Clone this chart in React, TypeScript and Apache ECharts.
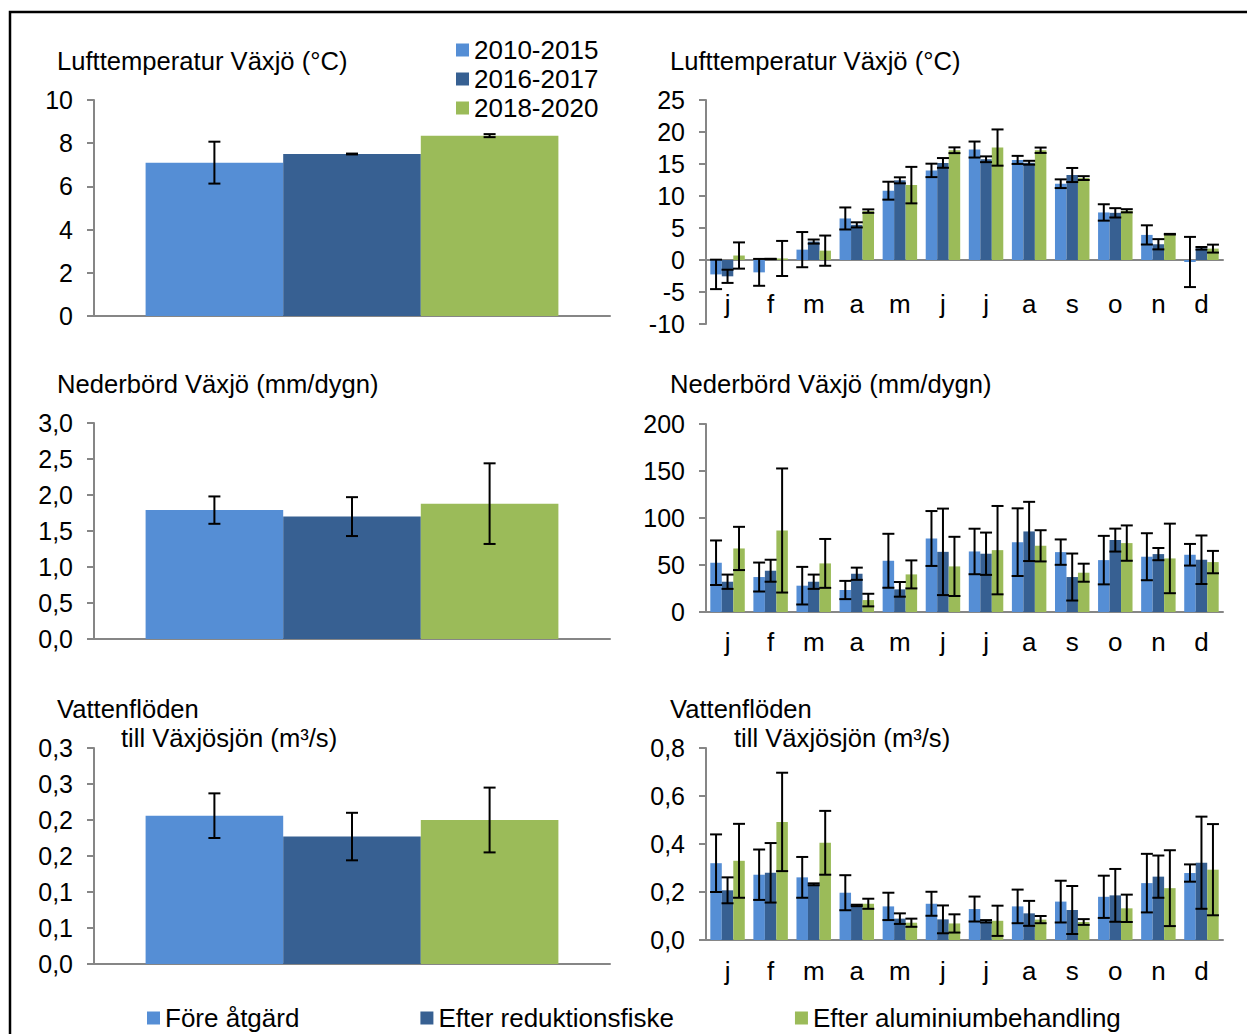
import React, { useEffect, useRef } from 'react';
import * as echarts from 'echarts';

const FONT = '"Liberation Sans", Arial, sans-serif';
const COLORS = ['#558ED5', '#376092', '#9BBB59'];
const AXIS_GRAY = '#868686';

const months = ['j', 'f', 'm', 'a', 'm', 'j', 'j', 'a', 's', 'o', 'n', 'd'];
const periodNames = ['2010-2015', '2016-2017', '2018-2020'];
const actionNames = ['Före åtgärd', 'Efter reduktionsfiske', 'Efter aluminiumbehandling'];
const flowAnnualTickLabels = ['0,0', '0,1', '0,1', '0,2', '0,2', '0,3', '0,3'];

// Annual means (three periods) and error half-widths
const tempAnnualMean = [7.1, 7.5, 8.35];
const tempAnnualErr = [0.97, 0.02, 0.07];
const precipAnnualMean = [1.79, 1.7, 1.88];
const precipAnnualErr = [0.19, 0.27, 0.56];
const flowAnnualMean = [0.206, 0.177, 0.2];
const flowAnnualErr = [0.031, 0.033, 0.045];

// Monthly air temperature
const tempBefore = [-2.25, -1.93, 1.62, 6.49, 10.83, 14.0, 17.26, 15.64, 11.92, 7.43, 3.92, -0.31];
const tempBeforeErr = [2.3, 2.1, 2.75, 1.72, 1.4, 1.05, 1.25, 0.63, 0.68, 1.28, 1.5, 3.92];
const tempFish = [-2.55, 0.16, 2.88, 5.49, 12.45, 15.17, 15.74, 15.2, 13.28, 7.37, 2.46, 1.83];
const tempFishErr = [1.03, 0.03, 0.32, 0.4, 0.47, 0.76, 0.45, 0.3, 1.1, 0.73, 0.8, 0.2];
const tempAlum = [0.7, 0.24, 1.46, 7.64, 11.7, 17.15, 17.57, 17.15, 12.8, 7.69, 4.03, 1.78];
const tempAlumErr = [2.05, 2.74, 2.36, 0.27, 2.85, 0.45, 2.83, 0.42, 0.3, 0.25, 0.05, 0.62];

// Monthly precipitation
const precipBefore = [52.4, 37.2, 28, 23.4, 54.5, 78.2, 64.4, 74.3, 63.7, 55.2, 58.8, 60.9];
const precipBeforeErr = [23.7, 15.4, 20, 9.7, 28.7, 29.2, 24.2, 36, 13.5, 25.8, 25, 11.5];
const precipFish = [32.2, 43.9, 32.2, 40.7, 24.1, 64, 62, 85.7, 37.2, 76.5, 61.6, 55.6];
const precipFishErr = [7.6, 11.7, 7.6, 6.5, 7.8, 46, 22.5, 31.5, 25, 12.2, 6.5, 25.8];
const precipAlum = [67.6, 86.7, 51.7, 12.7, 40, 48.5, 65.8, 70.4, 41.8, 73.3, 57, 53.1];
const precipAlumErr = [23, 66, 26, 6.7, 14.9, 31.5, 47, 16.6, 9.6, 18.8, 37, 11.9];

// Monthly water flow
const flowBefore = [0.32, 0.272, 0.261, 0.197, 0.14, 0.151, 0.129, 0.14, 0.16, 0.18, 0.237, 0.279];
const flowBeforeErr = [0.12, 0.105, 0.085, 0.073, 0.057, 0.05, 0.052, 0.07, 0.087, 0.088, 0.122, 0.036];
const flowFish = [0.207, 0.28, 0.232, 0.144, 0.089, 0.086, 0.078, 0.111, 0.125, 0.186, 0.264, 0.322];
const flowFishErr = [0.054, 0.124, 0.004, 0.003, 0.022, 0.058, 0.005, 0.052, 0.1, 0.11, 0.088, 0.192];
const flowAlum = [0.33, 0.492, 0.405, 0.151, 0.072, 0.069, 0.08, 0.085, 0.075, 0.132, 0.216, 0.293];
const flowAlumErr = [0.154, 0.205, 0.133, 0.021, 0.017, 0.038, 0.063, 0.015, 0.012, 0.057, 0.158, 0.19];

const comma1 = (v: number) => v.toFixed(1).replace('.', ',');

function barSeries(names: string[], xAxisIndex: number, yAxisIndex: number, datas: number[][]) {
  return datas.map((d, i) => ({
    type: 'bar',
    name: names[i],
    xAxisIndex,
    yAxisIndex,
    data: d,
    barGap: '0%',
    barCategoryGap: '20%',
    itemStyle: { color: COLORS[i] },
    z: 2,
    silent: true,
  }));
}

function errorSeries(xAxisIndex: number, yAxisIndex: number, means: number[][], errs: number[][], capHalf: number) {
  const data: number[][] = [];
  means.forEach((arr, s) =>
    arr.forEach((m, c) => data.push([c, m - errs[s][c], m + errs[s][c], s]))
  );
  return {
    type: 'custom',
    xAxisIndex,
    yAxisIndex,
    z: 5,
    silent: true,
    encode: { x: 0, y: [1, 2] },
    renderItem: (_params: any, api: any) => {
      const c = api.value(0);
      const lo = api.value(1);
      const hi = api.value(2);
      const s = api.value(3);
      const band = api.size([1, 0])[0];
      const bw = (band * 0.8) / 3;
      const x = api.coord([c, 0])[0] + (s - 1) * bw;
      const yLo = api.coord([c, lo])[1];
      const yHi = api.coord([c, hi])[1];
      const style = { stroke: '#000', lineWidth: 2 };
      return {
        type: 'group',
        children: [
          { type: 'line', shape: { x1: x, y1: yHi, x2: x, y2: yLo }, style },
          { type: 'line', shape: { x1: x - capHalf, y1: yHi, x2: x + capHalf, y2: yHi }, style },
          { type: 'line', shape: { x1: x - capHalf, y1: yLo, x2: x + capHalf, y2: yLo }, style },
        ],
      };
    },
    data,
  };
}

function yAxis(gridIndex: number, min: number, max: number, interval: number, formatter: any) {
  return {
    type: 'value',
    gridIndex,
    min,
    max,
    interval,
    axisLine: { show: true, lineStyle: { color: AXIS_GRAY, width: 2 } },
    axisTick: { show: true, length: 7, lineStyle: { color: AXIS_GRAY, width: 2 } },
    splitLine: { show: false },
    axisLabel: { color: '#000', fontSize: 25, fontFamily: FONT, margin: 21, formatter },
  };
}

function catAxis(gridIndex: number, data: string[], showLabel: boolean, margin = 8) {
  return {
    type: 'category',
    gridIndex,
    data,
    position: 'bottom',
    axisLine: { show: true, onZero: true, lineStyle: { color: AXIS_GRAY, width: 2 } },
    axisTick: { show: false },
    axisLabel: { show: showLabel, color: '#000', fontSize: 26, fontFamily: FONT, margin, interval: 0 },
  };
}

function titleText(x: number, y: number, text: string) {
  return {
    type: 'text',
    x,
    y,
    silent: true,
    style: { text, fontSize: 25.6, fontFamily: FONT, fill: '#000', verticalAlign: 'middle' },
  };
}

export default function App() {
  const ref = useRef<HTMLDivElement>(null);

  useEffect(() => {
    if (!ref.current) return;
    const chart = echarts.init(ref.current, null, { renderer: 'svg' });
    const one = [''];

    const option: any = {
      animation: false,
      backgroundColor: '#fff',
      textStyle: { fontFamily: FONT },
      grid: [
        { left: 94, top: 100, width: 516, height: 216 },
        { left: 706, top: 100, width: 517, height: 224 },
        { left: 94, top: 423, width: 516, height: 216 },
        { left: 706, top: 424, width: 517, height: 188 },
        { left: 94, top: 748, width: 516, height: 216 },
        { left: 706, top: 748, width: 517, height: 192 },
      ],
      xAxis: [
        catAxis(0, one, false),
        catAxis(1, months, false),
        {
          type: 'category',
          gridIndex: 1,
          data: months,
          position: 'bottom',
          offset: -41,
          axisLine: { show: false, onZero: false },
          axisTick: { show: false },
          axisLabel: { show: true, color: '#000', fontSize: 26, fontFamily: FONT, margin: 8, interval: 0 },
        },
        catAxis(2, one, false),
        catAxis(3, months, true, 17),
        catAxis(4, one, false),
        catAxis(5, months, true, 18),
      ],
      yAxis: [
        yAxis(0, 0, 10, 2, (v: number) => String(v)),
        yAxis(1, -10, 25, 5, (v: number) => String(v)),
        yAxis(2, 0, 3, 0.5, comma1),
        yAxis(3, 0, 200, 50, (v: number) => String(v)),
        yAxis(4, 0, 0.3, 0.05, (v: number) => flowAnnualTickLabels[Math.round(v / 0.05)] ?? ''),
        yAxis(5, 0, 0.8, 0.2, comma1),
      ],
      legend: [
        {
          data: periodNames,
          orient: 'vertical',
          left: 456,
          top: 37,
          padding: 0,
          itemWidth: 13,
          itemHeight: 13,
          itemGap: 3,
          icon: 'rect',
          selectedMode: false,
          textStyle: { fontSize: 26, fontFamily: FONT, color: '#000', lineHeight: 25 },
        },
        {
          data: actionNames,
          orient: 'horizontal',
          left: 147,
          top: 1005,
          padding: 0,
          itemWidth: 13,
          itemHeight: 13,
          itemGap: 121,
          icon: 'rect',
          selectedMode: false,
          textStyle: { fontSize: 26, fontFamily: FONT, color: '#000', lineHeight: 26 },
        },
      ],
      graphic: [
        {
          type: 'rect',
          silent: true,
          shape: { x: 10, y: 12, width: 1400, height: 1200 },
          style: { fill: 'none', stroke: '#000', lineWidth: 2.5 },
        },
        titleText(57, 61, 'Lufttemperatur Växjö (°C)'),
        titleText(670, 61, 'Lufttemperatur Växjö (°C)'),
        titleText(57, 384, 'Nederbörd Växjö (mm/dygn)'),
        titleText(670, 384, 'Nederbörd Växjö (mm/dygn)'),
        titleText(57, 709, 'Vattenflöden'),
        titleText(121, 738, 'till Växjösjön (m³/s)'),
        titleText(670, 709, 'Vattenflöden'),
        titleText(734, 738, 'till Växjösjön (m³/s)'),
      ],
      series: [
        ...barSeries(periodNames, 0, 0, tempAnnualMean.map((v) => [v])),
        errorSeries(0, 0, tempAnnualMean.map((v) => [v]), tempAnnualErr.map((v) => [v]), 6),

        ...barSeries(actionNames, 1, 1, [tempBefore, tempFish, tempAlum]),
        errorSeries(1, 1, [tempBefore, tempFish, tempAlum], [tempBeforeErr, tempFishErr, tempAlumErr], 6),

        ...barSeries(actionNames, 3, 2, precipAnnualMean.map((v) => [v])),
        errorSeries(3, 2, precipAnnualMean.map((v) => [v]), precipAnnualErr.map((v) => [v]), 6),

        ...barSeries(actionNames, 4, 3, [precipBefore, precipFish, precipAlum]),
        errorSeries(4, 3, [precipBefore, precipFish, precipAlum], [precipBeforeErr, precipFishErr, precipAlumErr], 6),

        ...barSeries(actionNames, 5, 4, flowAnnualMean.map((v) => [v])),
        errorSeries(5, 4, flowAnnualMean.map((v) => [v]), flowAnnualErr.map((v) => [v]), 6),

        ...barSeries(actionNames, 6, 5, [flowBefore, flowFish, flowAlum]),
        errorSeries(6, 5, [flowBefore, flowFish, flowAlum], [flowBeforeErr, flowFishErr, flowAlumErr], 6),
      ],
    };

    chart.setOption(option);
    return () => chart.dispose();
  }, []);

  return (
    <div
      ref={ref}
      style={{ position: 'absolute', left: 0, top: 0, width: '1247px', height: '1034px' }}
    />
  );
}
